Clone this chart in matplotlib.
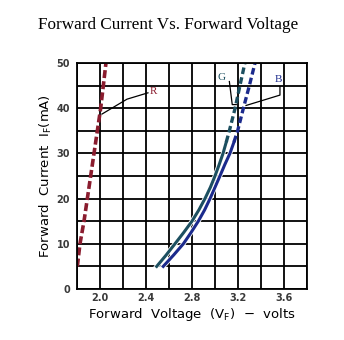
import numpy as np
import matplotlib
matplotlib.use("Agg")
import matplotlib.pyplot as plt
import matplotlib.patheffects as pe

# forward current (mA) and forward voltage (V) read per colour
i_r = [5, 10, 15, 20, 25, 30, 35, 40, 45, 50]
v_r = [1.803, 1.826, 1.861, 1.890, 1.919, 1.948, 1.977, 2.006, 2.029, 2.052]

i_g = [5, 7.5, 10, 12.5, 15, 17.5, 20, 22.5, 25, 27.5, 30, 32.5, 35, 40, 45, 50]
v_g = [2.493, 2.575, 2.652, 2.728, 2.80, 2.86, 2.913, 2.96, 3.0, 3.036, 3.07,
       3.098, 3.125, 3.175, 3.217, 3.26]

i_b = [5, 7.5, 10, 12.5, 15, 17.5, 20, 22.5, 25, 27.5, 30, 32.5, 35, 40, 45, 50]
v_b = [2.55, 2.64, 2.725, 2.792, 2.855, 2.91, 2.957, 3.0, 3.043, 3.085, 3.13,
       3.165, 3.197, 3.247, 3.299, 3.348]

x_ticks = [2.0, 2.4, 2.8, 3.2, 3.6]
y_ticks = [0, 10, 20, 30, 40, 50]

red = "#8a1c2e"
green = "#1c4f60"
blue = "#1b2a8c"

fig = plt.figure(figsize=(3.44, 3.40), dpi=100)
ax = fig.add_axes([0.2238, 0.15, 0.6686, 0.6647])

ax.set_xlim(1.8, 3.8)
ax.set_ylim(0, 50)
xg = np.round(np.arange(1.8, 3.81, 0.2), 1)
ax.set_xticks(xg)
ax.set_yticks(np.arange(0, 51, 5))
ax.grid(True, color="black", linewidth=1.3)
ax.set_axisbelow(True)
ax.tick_params(length=0, labelsize=7, pad=3)
ax.tick_params(axis="y", pad=5)
ax.set_xticklabels([f"{t:.1f}" if t in x_ticks else "" for t in xg])
ax.set_yticklabels([str(t) if t in y_ticks else "" for t in range(0, 51, 5)])
for s in ax.spines.values():
    s.set_linewidth(1.3)
for lab in ax.get_xticklabels() + ax.get_yticklabels():
    lab.set_fontweight("bold")
    lab.set_color("#3a3a3a")

# red: dashed over the whole range
ax.plot(v_r, i_r, color=red, lw=2.6, dashes=(2.2, 0.9))

# green and blue: solid at low current, dashed above; white rim keeps them apart
rim = [pe.Stroke(linewidth=3.4, foreground="white"), pe.Normal()]
k_g = i_g.index(32.5)
k_b = i_b.index(32.5)
ax.plot(v_b[:k_b + 1], i_b[:k_b + 1], color=blue, lw=2.2, path_effects=rim)
ax.plot(v_b[k_b:], i_b[k_b:], color=blue, lw=2.4, dashes=(2.0, 1.0))
ax.plot(v_g[:k_g + 1], i_g[:k_g + 1], color=green, lw=2.2, path_effects=rim)
ax.plot(v_g[k_g:], i_g[k_g:], color=green, lw=2.4, dashes=(2.0, 1.0))

# curve labels with leader lines
ax.plot([2.017, 2.235, 2.417], [38.7, 42.0, 43.4], color="black", lw=0.9)
ax.text(2.43, 43.6, "R", color=red, fontsize=8, family="Liberation Serif", va="center")
ax.plot([3.125, 3.15, 3.185], [45.9, 40.8, 40.8], color="black", lw=0.9)
ax.text(3.06, 46.8, "G", color=green, fontsize=8, family="Liberation Serif", ha="center", va="center")
ax.plot([3.565, 3.565, 3.27], [44.8, 42.9, 40.6], color="black", lw=0.9)
ax.text(3.55, 46.4, "B", color=blue, fontsize=8, family="Liberation Serif", ha="center", va="center")

fig.text(0.49, 0.926, "Forward Current Vs. Forward Voltage", ha="center", va="center",
         fontsize=12.3, family="Liberation Serif")
ax.set_xlabel(r"Forward  Voltage  ($\mathregular{V_F}$)  $-$  volts", fontsize=9.5, labelpad=2)
ax.set_ylabel(r"Forward  Current  $\mathregular{I_F}$(mA)", fontsize=9.5, labelpad=2)

fig.savefig("out.png", dpi=100)
